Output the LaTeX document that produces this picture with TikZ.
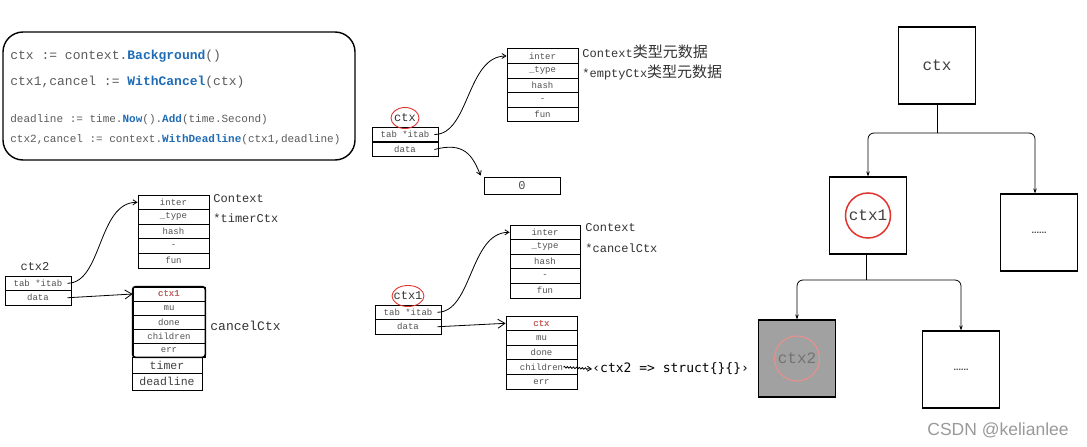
\documentclass[tikz,border=0pt]{standalone}
\usepackage{fontspec}
\setmainfont{Liberation Sans}
\setmonofont{Liberation Mono}
\newfontfamily\cjkfont{Noto Sans CJK SC}
\newfontfamily\sansmono{DejaVu Sans Mono}
\usetikzlibrary{arrows.meta,shapes.geometric,decorations.pathmorphing}
\definecolor{codegray}{HTML}{5A5A5A}
\definecolor{codeblue}{HTML}{1F6CB5}
\definecolor{cellgray}{HTML}{505050}
\definecolor{ringred}{HTML}{E0342F}
\newcommand{\fn}[1]{\textcolor{codeblue}{\textbf{#1}}}
\newcommand{\zh}[1]{{\cjkfont\fontsize{15}{16}\selectfont #1}}
\begin{document}
\begin{tikzpicture}[x=1pt,y=-1pt,line width=0.8pt,
  cell/.style={draw, minimum width=71pt, minimum height=14.6pt, inner sep=0pt, text=cellgray, font=\ttfamily\fontsize{9}{9}\selectfont},
  ifacecell/.style={cell, minimum width=66pt, minimum height=14.6pt},
  bigcell/.style={cell, minimum width=70pt, minimum height=16.5pt, text=black!75, font=\ttfamily\fontsize{11.5}{12}\selectfont},
  codeline/.style={anchor=west, inner sep=0pt, text=codegray, font=\ttfamily\fontsize{13}{14}\selectfont},
  smallcode/.style={codeline, font=\ttfamily\fontsize{11}{12}\selectfont},
  note/.style={anchor=west, inner sep=0pt, text=black!80, font=\ttfamily\fontsize{12}{13}\selectfont},
  varname/.style={inner sep=1pt, text=black!80, font=\ttfamily\fontsize{12}{13}\selectfont},
  ring/.style={draw=ringred, ellipse, line width=0.9pt, minimum width=28pt, minimum height=21pt},
  treebox/.style={draw, line width=1.1pt, minimum width=77pt, minimum height=77pt, text=black!75, font=\ttfamily\fontsize{16}{17}\selectfont},
  ptr/.style={-{Straight Barb[length=4pt,width=5pt]}},
  bigptr/.style={-{Straight Barb[length=7pt,width=9pt]}},
  edge/.style={-{Stealth[length=5pt,width=3.5pt]}, line width=0.8pt, rounded corners=6pt}]
\useasboundingbox (0,0) rectangle (1087,447);

% code
\draw[line width=1.4pt, rounded corners=20pt] (3,32) rectangle (355,160);
\node[codeline] (l1) at (10,56) {ctx := context.\fn{Background}()};
\node[codeline] (l2) at (10,82) {ctx1,cancel := \fn{WithCancel}(ctx)};
\node[smallcode] (l3) at (10,120) {deadline := time.\fn{Now}().\fn{Add}(time.Second)};
\node[smallcode] (l4) at (10,140) {ctx2,cancel := context.\fn{WithDeadline}(ctx1,deadline)};

% ctx: emptyCtx
\foreach \t [count=\i] in {inter,\_type,hash,-,fun}
  \node[cell] (ta\i) at (542.5,{41.4+14.6*\i}) {\t};
\node[note] (tanote1) at (582,52) {Context\zh{类型元数据}};
\node[note] (tanote2) at (582,72) {*emptyCtx\zh{类型元数据}};
\node[ifacecell] (ttab) at (405,134.5) {tab *itab};
\node[ifacecell] (tdata) at (405,149.5) {data};
\node[varname] (tname) at (405,118) {ctx};
\node[ring] at (tname) {};
\node[cell, minimum width=76pt, minimum height=17pt, font=\ttfamily\fontsize{12}{13}\selectfont] (zero) at (522,185.5) {0};
\draw[ptr] ([xshift=-4pt]ttab.east) .. controls +(35,0) and +(-40,0) .. (ta1.west);
\draw[ptr] ([xshift=-4pt]tdata.east) .. controls +(30,-8) and +(-8,-20) .. ([xshift=-3pt,yshift=1pt]zero.north west);

% ctx2: timerCtx
\foreach \t [count=\i] in {inter,\_type,hash,-,fun}
  \node[cell] (ba\i) at (173.5,{187.7+14.6*\i}) {\t};
\node[note] (banote1) at (213,199) {Context};
\node[note] (banote2) at (213,218) {*timerCtx};
\node[ifacecell] (btab) at (38,283.25) {tab *itab};
\node[ifacecell] (bdata) at (38,297.75) {data};
\node[varname] (bname) at (35,267) {ctx2};
\foreach \t [count=\i] in {ctx1,mu,done,children,err}
  \node[cell, minimum width=72pt, minimum height=14pt] (bc\i) at (169,{280+14*\i}) {\t};
\node[text=ringred!80, font=\ttfamily\fontsize{9}{9}\selectfont] at (bc1) {ctx1};
\draw[line width=1.6pt, rounded corners=3pt] (bc1.north west) rectangle (bc5.south east);
\node[bigcell] (btimer) at (167,365.25) {timer};
\node[bigcell] (bdeadline) at (167,381.75) {deadline};
\node[note, font=\ttfamily\fontsize{13}{14}\selectfont] (bcnote) at (210,326) {cancelCtx};
\draw[ptr] ([xshift=-4pt]btab.east) .. controls +(35,0) and +(-40,0) .. (ba1.west);
\draw[bigptr] ([xshift=-4pt]bdata.east) -- (bc1.west);

% ctx1: cancelCtx
\foreach \t [count=\i] in {inter,\_type,hash,-,fun}
  \node[cell, minimum width=70pt] (ma\i) at (545,{217.7+14.6*\i}) {\t};
\node[note] (manote1) at (585,228) {Context};
\node[note] (manote2) at (585,248) {*cancelCtx};
\node[ifacecell] (mtab) at (408,312.25) {tab *itab};
\node[ifacecell] (mdata) at (408,326.75) {data};
\node[varname] (mname) at (408,296) {ctx1};
\node[ring, minimum width=32pt] at (mname) {};
\foreach \t [count=\i] in {ctx,mu,done,children,err}
  \node[cell] (mc\i) at (541.5,{308.7+14.6*\i}) {\t};
\node[text=ringred!80, font=\ttfamily\fontsize{9}{9}\selectfont] at (mc1) {ctx};
\node[anchor=west, inner sep=0pt, font=\sansmono\fontsize{13}{14}\selectfont] (chmap) at (592,369) {‹ctx2 => struct\{\}\{\}›};
\draw[ptr] ([xshift=-4pt]mtab.east) .. controls +(35,0) and +(-40,0) .. (ma1.west);
\draw[bigptr] ([xshift=-4pt]mdata.east) -- (mc1.west);
\draw[ptr, decorate, decoration={snake, amplitude=0.8pt, segment length=3pt, post length=3pt}] ([xshift=22pt]mc4.center) -- (chmap.west);

% context tree
\node[treebox] (rctx) at (937,65.5) {ctx};
\node[treebox] (rctx1) at (868,215.5) {ctx1};
\node[draw=ringred, circle, line width=1.5pt, minimum size=45pt] at (rctx1) {};
\node[treebox, font=\bfseries\fontsize{9}{10}\selectfont] (rdots1) at (1039,232.5) {......};
\node[treebox, fill=black!37, text=black!55] (rctx2) at (797,358.5) {ctx2};
\node[draw=ringred!55, circle, line width=1pt, minimum size=45pt] at (rctx2) {};
\node[treebox, font=\bfseries\fontsize{9}{10}\selectfont] (rdots2) at (961,369.5) {......};
\coordinate (fork1) at (937,133);
\coordinate (fork2) at (866,280);
\draw[line width=0.8pt] (rctx.south) -- (fork1);
\draw[edge] (fork1) -| (rctx1.north);
\draw[edge] (fork1) -| ([xshift=-4pt]rdots1.north);
\draw[line width=0.8pt] ([xshift=-2pt]rctx1.south) -- (fork2);
\draw[edge] (fork2) -| (rctx2.north);
\draw[edge] (fork2) -| (rdots2.north);

\node[text=black!40, font=\fontsize{17.5}{18}\selectfont] (mark) at (998,430) {CSDN @kelianlee};
\end{tikzpicture}
\end{document}
